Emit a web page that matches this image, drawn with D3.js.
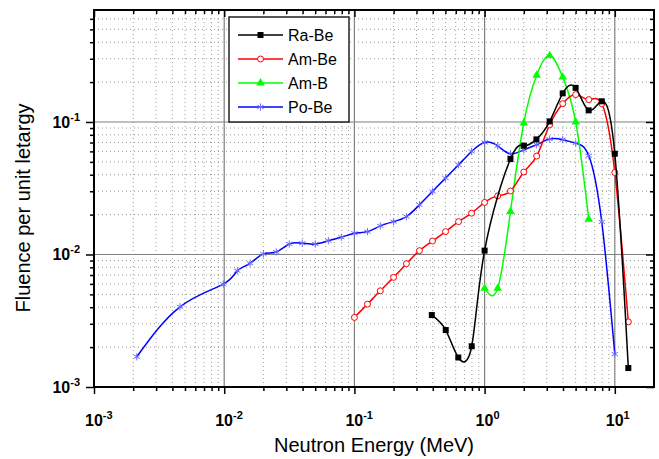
<!DOCTYPE html>
<html>
<head>
<meta charset="utf-8">
<script src="https://cdn.jsdelivr.net/npm/d3@7"></script>
<style>
body { margin: 0; background: #fff; }
svg { display: block; }
text { font-family: "Liberation Sans", Arial, sans-serif; }
</style>
</head>
<body>
<svg id="chart"></svg>
<script>
// tick labels (powers of ten)
const xMajor = [1e-3, 1e-2, 1e-1, 1, 10];
const xExp = ["-3", "-2", "-1", "0", "1"];
const yMajor = [1e-3, 1e-2, 1e-1];
const yExp = ["-3", "-2", "-1"];

const seriesNames = ["Ra-Be", "Am-Be", "Am-B", "Po-Be"];

// values (MeV, fluence per unit letargy)
const raBeEnergy = [0.393, 0.503, 0.628, 0.796, 1.0, 1.58, 2.0, 2.5, 3.16, 3.98, 5.0, 6.3, 7.94, 10.0, 12.7];
const raBeFluence = [0.00349, 0.00269, 0.00167, 0.00203, 0.0107, 0.0525, 0.0662, 0.0739, 0.101, 0.1645, 0.181, 0.1224, 0.1432, 0.0576, 0.00139];

const amBeEnergy = [0.1, 0.126, 0.158, 0.2, 0.251, 0.316, 0.398, 0.501, 0.631, 0.794, 1.0, 1.26, 1.58, 2.0, 2.51, 3.16, 3.98, 5.01, 6.31, 7.94, 10.0, 12.7];
const amBeFluence = [0.00335, 0.00422, 0.00532, 0.00672, 0.00852, 0.01069, 0.01264, 0.01488, 0.0177, 0.0205, 0.0247, 0.0277, 0.0301, 0.0419, 0.0553, 0.0954, 0.1375, 0.161, 0.1475, 0.1375, 0.0416, 0.0031];

const amBEnergy = [1.0, 1.26, 1.58, 2.0, 2.51, 3.16, 3.98, 5.01, 6.31];
const amBFluence = [0.00555, 0.00555, 0.0211, 0.0983, 0.225, 0.317, 0.218, 0.100, 0.01846];

const poBeEnergy = [0.00213, 0.00458, 0.00985, 0.0126, 0.0158, 0.02, 0.0251, 0.0316, 0.0398, 0.0501, 0.0631, 0.0794, 0.1, 0.126, 0.158, 0.2, 0.251, 0.316, 0.398, 0.501, 0.631, 0.794, 1.0, 1.26, 1.58, 2.0, 2.51, 3.16, 3.98, 5.01, 6.31, 7.94, 10.0];
const poBeFluence = [0.00169, 0.00403, 0.00598, 0.00754, 0.00858, 0.0101, 0.01045, 0.012, 0.01217, 0.012, 0.01272, 0.01349, 0.01446, 0.01488, 0.01643, 0.0177, 0.0193, 0.0237, 0.0299, 0.0377, 0.0475, 0.0599, 0.0701, 0.066, 0.0575, 0.0617, 0.0673, 0.0743, 0.0735, 0.0693, 0.0556, 0.0176, 0.00177];

const width = 659, height = 459;
const margin = {top: 10, right: 5, bottom: 72, left: 94};

const svg = d3.select("#chart")
	.attr("width", width)
	.attr("height", height);

const x = d3.scaleLog()
	.domain([1e-3, 20])
	.range([margin.left, width - margin.right]);
const y = d3.scaleLog()
	.domain([1e-3, 0.7])
	.range([height - margin.bottom, margin.top]);

// minor values 2..9 in every decade, inside the domain
function minorTicks(scale){
	const [a, b] = scale.domain();
	let out = [];
	for(let d = Math.floor(Math.log10(a)); d <= Math.ceil(Math.log10(b)); d++){
		for(let k = 2; k <= 9; k++){
			const v = k * Math.pow(10, d);
			if(v > a && v < b){ out.push(v); }
		}
	}
	return out;
}
const xMinor = minorTicks(x);
const yMinor = minorTicks(y);

const x0 = x.range()[0], x1 = x.range()[1];
const y0 = y.range()[0], y1 = y.range()[1];

// grid
const grid = svg.append("g");
grid.selectAll(".gxm").data(xMinor).join("line")
	.attr("x1", d => x(d)).attr("x2", d => x(d))
	.attr("y1", y0).attr("y2", y1)
	.attr("stroke", "#9a9a9a").attr("stroke-width", 1)
	.attr("stroke-dasharray", "1,3");
grid.selectAll(".gym").data(yMinor).join("line")
	.attr("y1", d => y(d)).attr("y2", d => y(d))
	.attr("x1", x0).attr("x2", x1)
	.attr("stroke", "#9a9a9a").attr("stroke-width", 1)
	.attr("stroke-dasharray", "1,3");
grid.selectAll(".gx").data(xMajor).join("line")
	.attr("x1", d => x(d)).attr("x2", d => x(d))
	.attr("y1", y0).attr("y2", y1)
	.attr("stroke", "#808080").attr("stroke-width", 1.2);
grid.selectAll(".gy").data(yMajor).join("line")
	.attr("y1", d => y(d)).attr("y2", d => y(d))
	.attr("x1", x0).attr("x2", x1)
	.attr("stroke", "#808080").attr("stroke-width", 1.2);

// axes: bottom/left ticks outward, top/right inward
function addAxis(axisFn, vals, size, transform){
	const g = svg.append("g")
		.attr("transform", transform)
		.call(axisFn.tickValues(vals).tickSize(size).tickFormat(() => ""));
	g.select(".domain").remove();
	g.selectAll(".tick line").attr("stroke", "#000").attr("stroke-width", 1.5);
}
addAxis(d3.axisBottom(x), xMajor, 7, `translate(0,${y0})`);
addAxis(d3.axisBottom(x), xMinor, 4, `translate(0,${y0})`);
addAxis(d3.axisTop(x), xMajor, -7, `translate(0,${y1})`);
addAxis(d3.axisTop(x), xMinor, -4, `translate(0,${y1})`);
addAxis(d3.axisLeft(y), yMajor, 8, `translate(${x0},0)`);
addAxis(d3.axisLeft(y), yMinor, 4, `translate(${x0},0)`);
addAxis(d3.axisRight(y), yMajor, -8, `translate(${x1},0)`);
addAxis(d3.axisRight(y), yMinor, -4, `translate(${x1},0)`);

svg.append("rect")
	.attr("x", x0).attr("y", y1)
	.attr("width", x1 - x0).attr("height", y0 - y1)
	.attr("fill", "none").attr("stroke", "#000").attr("stroke-width", 2);

// tick labels 10^n
const xl = svg.append("g").selectAll("text").data(xMajor).join("text")
	.attr("x", d => x(d) - 9)
	.attr("y", 426)
	.attr("font-size", 16).attr("font-weight", "bold").attr("fill", "#000");
xl.append("tspan").text("10");
xl.append("tspan").attr("dy", -7).attr("font-size", 11).text((d, i) => xExp[i]);

const yl = svg.append("g").selectAll("text").data(yMajor).join("text")
	.attr("x", 80)
	.attr("y", d => y(d) + 6)
	.attr("text-anchor", "end")
	.attr("font-size", 16).attr("font-weight", "bold").attr("fill", "#000");
yl.append("tspan").text("10");
yl.append("tspan").attr("dy", -7).attr("font-size", 11).text((d, i) => yExp[i]);

// axis titles
svg.append("text")
	.attr("x", (x0 + x1) / 2).attr("y", 452)
	.attr("text-anchor", "middle").attr("font-size", 20)
	.text("Neutron Energy (MeV)");
svg.append("text")
	.attr("transform", "translate(30,208) rotate(-90)")
	.attr("text-anchor", "middle").attr("font-size", 20)
	.text("Fluence per unit letargy");

// series
const series = [
	{name: seriesNames[0], e: raBeEnergy, f: raBeFluence, color: "#000000", mark: "square"},
	{name: seriesNames[1], e: amBeEnergy, f: amBeFluence, color: "#ff0000", mark: "circle"},
	{name: seriesNames[2], e: amBEnergy, f: amBFluence, color: "#00ff00", mark: "triangle"},
	{name: seriesNames[3], e: poBeEnergy, f: poBeFluence, color: "#0000ff", mark: "star"}
];

svg.append("clipPath").attr("id", "clip")
	.append("rect").attr("x", x0).attr("y", y1).attr("width", x1 - x0).attr("height", y0 - y1);

const line = d3.line()
	.x(d => x(d[0]))
	.y(d => y(d[1]))
	.curve(d3.curveNatural);

function drawMarker(sel, s){
	if(s.mark == "square"){
		sel.append("rect").attr("x", -3).attr("y", -3).attr("width", 6).attr("height", 6)
			.attr("fill", s.color);
	}else if(s.mark == "circle"){
		sel.append("circle").attr("r", 3).attr("fill", "#fff")
			.attr("stroke", s.color).attr("stroke-width", 1);
	}else if(s.mark == "triangle"){
		sel.append("path").attr("d", d3.symbol(d3.symbolTriangle, 32)())
			.attr("fill", s.color);
	}else{
		sel.append("path").attr("d", d3.symbol(d3.symbolAsterisk, 36)())
			.attr("fill", "none").attr("stroke", "#6b6bff").attr("stroke-width", 1);
	}
}

const plot = svg.append("g").attr("clip-path", "url(#clip)");
series.slice().reverse().forEach(function(s){
	const pts = s.e.map((v, i) => [v, s.f[i]]);
	const g = plot.append("g");
	g.append("path").datum(pts)
		.attr("d", line)
		.attr("fill", "none")
		.attr("stroke", s.color)
		.attr("stroke-width", 1.5);
	g.selectAll(".m").data(pts).join("g")
		.attr("transform", d => `translate(${x(d[0])},${y(d[1])})`)
		.each(function(){ drawMarker(d3.select(this), s); });
});

// legend
const legend = svg.append("g");
legend.append("rect")
	.attr("x", 229).attr("y", 17).attr("width", 120).attr("height", 105)
	.attr("fill", "#fff").attr("stroke", "#222").attr("stroke-width", 1.5);
const rows = [35, 59, 83, 107];
series.forEach(function(s, i){
	const r = legend.append("g").attr("transform", `translate(0,${rows[i]})`);
	r.append("line").attr("x1", 238).attr("x2", 283)
		.attr("stroke", s.color).attr("stroke-width", 1.5);
	drawMarker(r.append("g").attr("transform", "translate(260.5,0)"), s);
	r.append("text").attr("x", 288).attr("y", 6)
		.attr("font-size", 16).text(s.name);
});
</script>
</body>
</html>
